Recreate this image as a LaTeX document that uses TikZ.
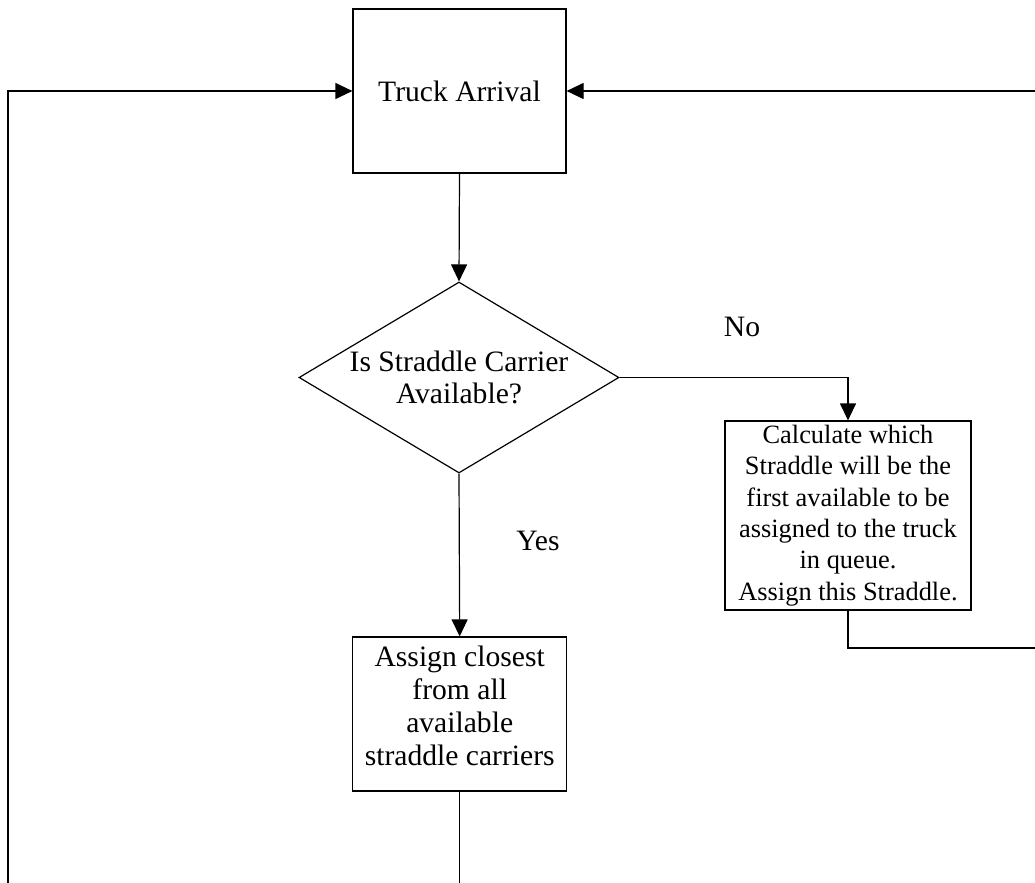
\documentclass[tikz,border=0pt]{standalone}
\usepackage{fontspec}
\setmainfont{Liberation Serif}
\usetikzlibrary{shapes.geometric,arrows.meta}

\begin{document}
\begin{tikzpicture}[
  x=0.5pt, y=-0.5pt,
  font=\fontsize{14.8}{16.4}\selectfont,
  every node/.style={inner sep=0pt},
  procbox/.style={draw, line width=0.6pt, align=center},
  smalltext/.style={font=\fontsize{13.2}{15.7}\selectfont},
  decision/.style={draw, line width=0.6pt, diamond, align=center, aspect=1.675},
  flow/.style={line width=0.6pt, -{Triangle[length=8.5pt,width=8pt]}},
  lbl/.style={}
]
% page frame
\path[use as bounding box] (0,0) rectangle (1035,883);
\clip (0,0) rectangle (1035,883);

% process steps
\node[procbox, minimum width=106.5pt, minimum height=82pt] (truck) at (459.5,91) {Truck Arrival};
\node[decision, minimum width=160pt, minimum height=95.5pt] (avail) at (459,377.5)
  {Is Straddle Carrier\\Available?};
\node[procbox, smalltext, minimum width=123pt, minimum height=94.5pt] (calc) at (848,515.5)
  {Calculate which\\Straddle will be the\\first available to be\\assigned to the truck\\in queue.\\Assign this Straddle.};
\node[procbox, minimum width=107pt, minimum height=77pt,
      label={[align=center, yshift=4pt]center:Assign closest\\from all\\available\\straddle carriers}]
  (assign) at (459.7,714) {};

% branch labels
\node[lbl] (nolbl) at (742,327) {No};
\node[lbl] (yeslbl) at (538,541) {Yes};

% return routes (run past the page edge)
\coordinate (loopL) at (8,930);
\coordinate (loopR) at (1045,648);

% connectors
\draw[flow] (truck.south) -- (avail.north);
\draw[flow] (avail.east) -| (calc.north);
\draw[flow] (avail.south) -- (assign.north);
\draw[flow] (assign.south) |- (loopL) |- (truck.west);
\draw[flow] (calc.south) |- (loopR) |- (truck.east);
\end{tikzpicture}
\end{document}
